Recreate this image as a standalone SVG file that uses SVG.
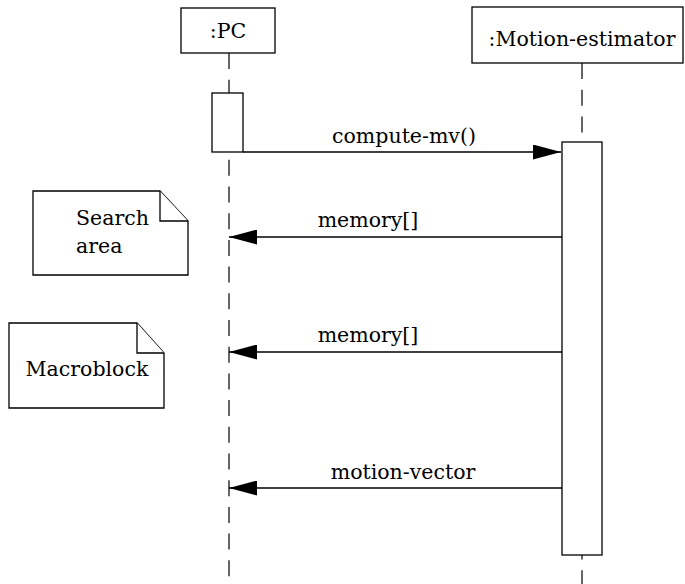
<svg xmlns="http://www.w3.org/2000/svg" width="685" height="584" viewBox="0 0 685 584">
<defs>
<style>
.box{fill:#fff;stroke:#000;stroke-width:1.3}
.life{fill:none;stroke:#333;stroke-width:1.5;stroke-dasharray:16 10.7}
.msg{fill:none;stroke:#000;stroke-width:1.3}
text{font-family:"DejaVu Serif","Liberation Serif",serif;font-size:20.5px;fill:#000}
</style>
<marker id="arr" viewBox="0 0 28 15" refX="28" refY="7.5" markerWidth="28" markerHeight="15" orient="auto" markerUnits="userSpaceOnUse">
<path d="M0,0 L28,7.5 L0,15 z" fill="#000"/>
</marker>
</defs>
<rect width="685" height="584" fill="#fff"/>
<g id="lifelines">
<line class="life" x1="229" y1="53" x2="229" y2="584"/>
<line class="life" x1="582" y1="63" x2="582" y2="584"/>
</g>
<g id="pc">
<rect class="box" x="181" y="8" width="94" height="45"/>
<text x="228" y="38" text-anchor="middle">:PC</text>
</g>
<g id="motion-estimator">
<rect class="box" x="472" y="7" width="211" height="56"/>
<text x="582" y="46" text-anchor="middle">:Motion-estimator</text>
</g>
<g id="pc-activation">
<rect class="box" x="212" y="93" width="31" height="59"/>
</g>
<g id="me-activation">
<rect class="box" x="562" y="142" width="40" height="413"/>
</g>
<g id="note-search">
<path class="box" d="M33,191 L160,191 L188,221 L188,275 L33,275 Z"/>
<path class="box" d="M160,191 L160,221 L188,221" fill="none"/>
<text x="76" y="225">Search</text>
<text x="76" y="253">area</text>
</g>
<g id="note-macroblock">
<path class="box" d="M9,323 L137,323 L164,353 L164,408 L9,408 Z"/>
<path class="box" d="M137,323 L137,353 L164,353" fill="none"/>
<text x="87" y="376" text-anchor="middle">Macroblock</text>
</g>
<g id="connectors">
<line class="msg" x1="243" y1="152" x2="561" y2="152" marker-end="url(#arr)"/>
<text x="404" y="143" text-anchor="middle">compute-mv()</text>
<line class="msg" x1="562" y1="237" x2="229" y2="237" marker-end="url(#arr)"/>
<text x="368" y="227" text-anchor="middle">memory[]</text>
<line class="msg" x1="562" y1="352" x2="229" y2="352" marker-end="url(#arr)"/>
<text x="368" y="342" text-anchor="middle">memory[]</text>
<line class="msg" x1="562" y1="488" x2="229" y2="488" marker-end="url(#arr)"/>
<text x="403" y="479" text-anchor="middle">motion-vector</text>
</g>
</svg>
